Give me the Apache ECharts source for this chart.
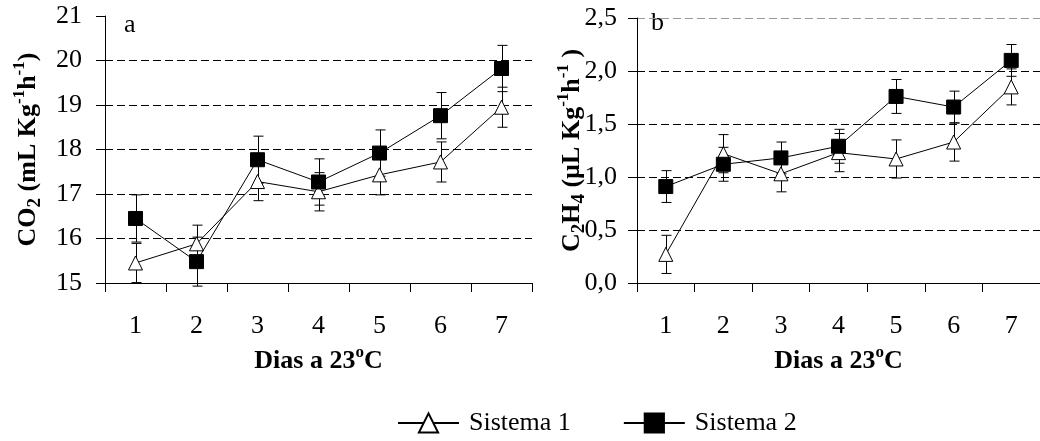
<!DOCTYPE html>
<html><head><meta charset="utf-8">
<script src="https://cdn.jsdelivr.net/npm/echarts@6/dist/echarts.min.js"></script>
<style>html,body{margin:0;padding:0;background:#fff}#c{width:1040px;height:441px}</style>
</head><body><div id="c"></div>
<script>
// ---- data ----
const days = ['1', '2', '3', '4', '5', '6', '7'];
const co2Sistema1 = [15.45, 15.88, 17.28, 17.05, 17.43, 17.72, 18.95];
const co2Sistema1Err = [0.44, 0.42, 0.43, 0.43, 0.45, 0.45, 0.45];
const co2Sistema2 = [16.45, 15.48, 17.77, 17.27, 17.92, 18.76, 19.82];
const co2Sistema2Err = [0.53, 0.55, 0.53, 0.52, 0.52, 0.52, 0.52];
const c2h4Sistema1 = [0.27, 1.22, 1.03, 1.23, 1.17, 1.33, 1.85];
const c2h4Sistema1Err = [0.18, 0.18, 0.17, 0.18, 0.18, 0.18, 0.17];
const c2h4Sistema2 = [0.91, 1.12, 1.18, 1.29, 1.76, 1.66, 2.10];
const c2h4Sistema2Err = [0.15, 0.16, 0.15, 0.16, 0.16, 0.15, 0.15];
const seriesNames = ['Sistema 1', 'Sistema 2'];

const FONT = '"Liberation Serif", "Times New Roman", serif';
const richStyles = {
  b:  {fontFamily: FONT, fontSize: 26, fontWeight: 'bold', color: '#000', lineHeight: 34, verticalAlign: 'middle'},
  bs: {fontFamily: FONT, fontSize: 19, fontWeight: 'bold', color: '#000', verticalAlign: 'bottom'},
  bp: {fontFamily: FONT, fontSize: 17, fontWeight: 'bold', color: '#000', verticalAlign: 'top'}
};

function errBar(ax, vals, errs) {
  return {
    type: 'custom', xAxisIndex: ax, yAxisIndex: ax, z: 1, silent: true,
    data: vals.map((v, i) => [i, v, errs[i]]),
    renderItem(params, api) {
      const i = api.value(0), v = api.value(1), e = api.value(2);
      const t = api.coord([i, v + e]), b = api.coord([i, v - e]);
      const w = 5, x = Math.round(t[0]) + 0.5;
      const st = {stroke: '#000', lineWidth: 1};
      return {type: 'group', children: [
        {type: 'line', shape: {x1: x, y1: t[1], x2: x, y2: b[1]}, style: st},
        {type: 'line', shape: {x1: x - w, y1: t[1], x2: x + w, y2: t[1]}, style: st},
        {type: 'line', shape: {x1: x - w, y1: b[1], x2: x + w, y2: b[1]}, style: st}
      ]};
    }
  };
}
function lineS(name, ax, data) {
  const tri = name === seriesNames[0];
  return {
    name, type: 'line', xAxisIndex: ax, yAxisIndex: ax, data,
    symbol: tri ? 'triangle' : 'rect', symbolSize: 14, showSymbol: true,
    lineStyle: {color: '#000', width: 1},
    itemStyle: tri ? {color: '#fff', borderColor: '#000', borderWidth: 1} : {color: '#000', borderColor: '#000', borderWidth: 1},
    z: tri ? 3 : 4
  };
}
function xAx(grid) {
  return {
    type: 'category', gridIndex: grid, data: days, boundaryGap: true,
    axisLine: {show: true, lineStyle: {color: '#000', width: 1}},
    axisTick: {show: true, length: 9, interval: 0, lineStyle: {color: '#000'}},
    axisLabel: {interval: 0, color: '#000', fontFamily: FONT, fontSize: 26, margin: 30},
    splitLine: {show: false},
    name: '{b|Dias a 23}{bp|o}{b|C}', nameLocation: 'middle', nameGap: 60,
    nameTextStyle: {rich: richStyles}
  };
}
function yAx(grid, min, max, interval, fmt, colors, name, gap, margin) {
  return {
    type: 'value', gridIndex: grid, min, max, interval,
    axisLine: {show: true, lineStyle: {color: '#000', width: 1}},
    axisTick: {show: true, length: 9, lineStyle: {color: '#000'}},
    axisLabel: {color: '#000', fontFamily: FONT, fontSize: 26, margin, formatter: fmt},
    splitLine: {show: true, lineStyle: {color: colors, type: [8, 4], width: 1}},
    name, nameLocation: 'middle', nameRotate: 90, nameGap: gap, nameMoveOverlap: false,
    nameTextStyle: {rich: richStyles}
  };
}

const chart = echarts.init(document.getElementById('c'));
chart.setOption({
  animation: false,
  backgroundColor: '#fff',
  grid: [
    {left: 105, top: 16, width: 427, height: 267},
    {left: 637, top: 18, width: 413, height: 265}
  ],
  xAxis: [xAx(0), xAx(1)],
  yAxis: [
    yAx(0, 15, 21, 1, v => String(v), ['#000', '#000', '#000', '#000', '#000', '#000', 'rgba(0,0,0,0)'],
      '{b|CO}{bs|2}{b| (mL Kg}{bp|-1}{b|h}{bp|-1}{b|)}', 60, 23),
    yAx(1, 0, 2.5, 0.5, v => v.toFixed(1).replace('.', ','), ['#000', '#000', '#000', '#000', '#000', '#999'],
      '{b|C}{bs|2}{b|H}{bs|4}{b| (µL Kg}{bp|-1}{b|h}{bp|-1}{b| )}', 48, 20)
  ],
  legend: {
    data: seriesNames, left: 392, top: 405, itemWidth: 61, itemHeight: 24, itemGap: 52,
    textStyle: {color: '#000', fontFamily: FONT, fontSize: 26, padding: [0, 0, 0, 5]},
    selectedMode: false
  },
  graphic: [
    {type: 'text', left: 124, top: 12, style: {text: 'a', font: '26px ' + FONT, fill: '#000'}},
    {type: 'text', left: 651, top: 10, style: {text: 'b', font: '26px ' + FONT, fill: '#000'}}
  ],
  series: [
    errBar(0, co2Sistema1, co2Sistema1Err),
    errBar(0, co2Sistema2, co2Sistema2Err),
    errBar(1, c2h4Sistema1, c2h4Sistema1Err),
    errBar(1, c2h4Sistema2, c2h4Sistema2Err),
    lineS(seriesNames[0], 0, co2Sistema1),
    lineS(seriesNames[1], 0, co2Sistema2),
    lineS(seriesNames[0], 1, c2h4Sistema1),
    lineS(seriesNames[1], 1, c2h4Sistema2)
  ]
});
</script></body></html>
